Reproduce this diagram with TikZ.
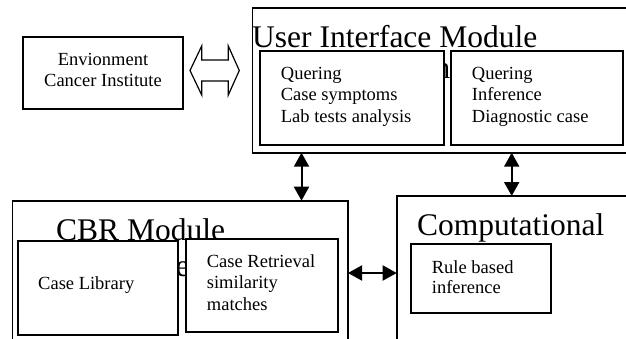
\documentclass[tikz,border=0pt]{standalone}
\usepackage{fontspec}
\setmainfont{Liberation Serif}
\usetikzlibrary{arrows.meta}
\begin{document}
\begin{tikzpicture}[x=1pt,y=-1pt,
  box/.style={draw, line width=1.7pt, fill=white, inner sep=0pt, outer sep=0pt, anchor=north west},
  small/.style={font=\fontsize{18.5}{21}\selectfont, inner sep=0pt, anchor=base west},
  big/.style={font=\fontsize{31.5}{36}\selectfont, inner sep=0pt, anchor=base west},
  conn/.style={line width=2pt, {Triangle[length=14pt,width=15pt]}-{Triangle[length=14pt,width=15pt]}},
  hollow/.style={draw, line width=1.2pt, fill=white, line join=miter}]
\clip (0,0) rectangle (626,338);
\fill[white] (0,0) rectangle (626,338);

% environment box
\node[box, minimum width=160pt, minimum height=72pt] (env) at (23,37) {};
\node[small, anchor=base] (env1) at (103,65) {Envionment};
\node[small, anchor=base] (env2) at (103,86) {Cancer Institute};

% hollow double arrow
\coordinate (hl) at (190,70.5);
\coordinate (hr) at (239.3,70.5);
\draw[hollow] (hl) -- ++(11.7,-24.5) -- ++(0,14) -- ++(26.6,0) -- ++(0,-14) -- (hr)
  -- ++(-11,24.5) -- ++(0,-14) -- ++(-26.6,0) -- ++(0,14) -- cycle;

% user interface module
\node[box, minimum width=380pt, minimum height=144.4pt] (ui) at (252.5,8.3) {};
\node[big] (uit) at (252,47) {User Interface Module};
\node[big, anchor=base east] (uifrag) at (450.5,78) {n};
\node[box, minimum width=184.3pt, minimum height=94.3pt] (uil) at (260,50.7) {};
\node[box, minimum width=172.3pt, minimum height=94.3pt] (uir) at (450.7,50.7) {};
\node[small] (l1) at (280.7,79) {Quering};
\node[small] (l2) at (280.7,100.5) {Case symptoms};
\node[small] (l3) at (280.7,122) {Lab tests analysis};
\node[small] (r1) at (471.7,79) {Quering};
\node[small] (r2) at (471.7,100.5) {Inference};
\node[small] (r3) at (471.7,122) {Diagnostic case};

% CBR module
\node[box, minimum width=335.5pt, minimum height=150pt] (cbr) at (12.5,200.7) {};
\node[big] (cbrt) at (56,240) {CBR Module};
\node[big] (cbrfrag) at (175.5,276) {e};
\node[box, minimum width=160.3pt, minimum height=94.3pt] (lib) at (17.7,240.7) {};
\node[box, minimum width=152.3pt, minimum height=93pt] (ret) at (185.7,239) {};
\node[small] (lib1) at (38,289.5) {Case Library};
\node[small] (ret1) at (206.7,267) {Case Retrieval};
\node[small] (ret2) at (206.7,288.5) {similarity};
\node[small] (ret3) at (206.7,310) {matches};

% computational module
\node[box, minimum width=240pt, minimum height=150pt] (comp) at (396.7,196) {};
\node[big] (compt) at (417,235) {Computational};
\node[box, minimum width=140.3pt, minimum height=68.4pt] (rule) at (410.7,244.3) {};
\node[small] (ru1) at (431.7,273.9) {Rule based};
\node[small] (ru2) at (431.7,293.6) {inference};

% connectors
\coordinate (xa) at (301.5,0);
\coordinate (xb) at (511.7,0);
\coordinate (yc) at (0,273);
\draw[conn] (ui.south -| xa) -- (cbr.north -| xa);
\draw[conn] (ui.south -| xb) -- (comp.north -| xb);
\draw[conn] (cbr.east |- yc) -- (comp.west |- yc);
\end{tikzpicture}
\end{document}
